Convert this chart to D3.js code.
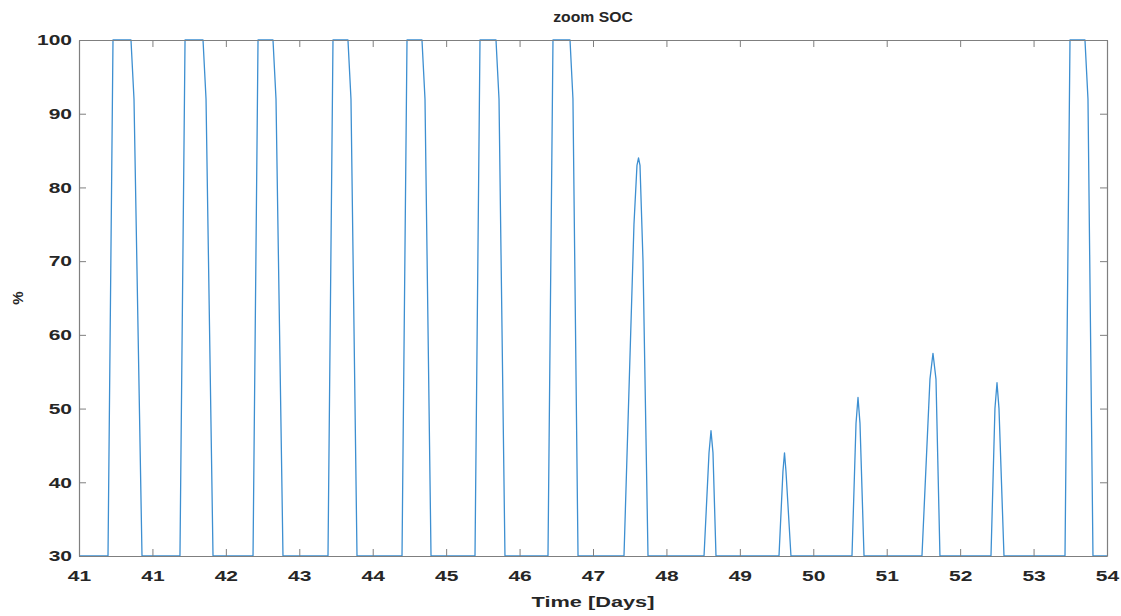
<!DOCTYPE html>
<html>
<head>
<meta charset="utf-8">
<script src="https://cdn.jsdelivr.net/npm/d3@7"></script>
<style>
  html, body { margin: 0; padding: 0; background: #fff; }
  svg text { font-family: "Liberation Sans", Arial, sans-serif; font-weight: bold; fill: #262626; }
</style>
</head>
<body>
<svg id="chart" width="1121" height="616"></svg>
<script>
// ---- data ----
const timeDays = [
  40.000,
  40.395, 40.463, 40.708, 40.749, 40.858,
  41.375, 41.444, 41.689, 41.730, 41.825,
  42.370, 42.438, 42.642, 42.683, 42.778,
  43.391, 43.459, 43.663, 43.704, 43.786,
  44.399, 44.467, 44.671, 44.712, 44.794,
  45.393, 45.461, 45.679, 45.720, 45.801,
  46.387, 46.455, 46.687, 46.727, 46.796,
  47.422, 47.558, 47.599, 47.620, 47.640, 47.681, 47.749,
  48.512, 48.580, 48.607, 48.634, 48.675,
  49.533, 49.587, 49.608, 49.628, 49.696,
  50.527, 50.582, 50.609, 50.636, 50.691,
  51.480, 51.589, 51.630, 51.671, 51.725,
  52.420, 52.474, 52.502, 52.529, 52.597,
  53.428, 53.496, 53.700, 53.741, 53.809,
  54.000
];
const socPercent = [
  30,
  30, 100, 100, 92, 30,
  30, 100, 100, 92, 30,
  30, 100, 100, 92, 30,
  30, 100, 100, 92, 30,
  30, 100, 100, 92, 30,
  30, 100, 100, 92, 30,
  30, 100, 100, 92, 30,
  30, 75, 83, 84, 83, 70, 30,
  30, 44, 47, 44, 30,
  30, 41.5, 44, 41.5, 30,
  30, 48, 51.5, 48, 30,
  30, 54, 57.5, 54, 30,
  30, 50, 53.5, 50, 30,
  30, 100, 100, 92, 30,
  30
];
const xTickValues = [40, 41, 42, 43, 44, 45, 46, 47, 48, 49, 50, 51, 52, 53, 54];
const xTickLabels = ["41", "41", "42", "43", "44", "45", "46", "47", "48", "49", "50", "51", "52", "53", "54"];
const yTickValues = [30, 40, 50, 60, 70, 80, 90, 100];
const titleText = "zoom SOC";
const xLabelText = "Time [Days]";
const yLabelText = "%";

// ---- layout ----
const svg = d3.select("#chart");
const mLeft = 79, mRight = 1107, mTop = 40, mBottom = 556;
const x = d3.scaleLinear().domain([40, 54]).range([mLeft, mRight]);
const y = d3.scaleLinear().domain([30, 100]).range([mBottom, mTop]);
const axisColor = "#7f7f7f";
const tickLen = 7;
const fontSize = 15;
const stretch = 1.4;   // text in the reference is horizontally stretched

const data = timeDays.map((t, i) => [t, socPercent[i]]);

// line
svg.append("path")
  .datum(data)
  .attr("fill", "none")
  .attr("stroke", "#3d8fd1")
  .attr("stroke-width", 1.3)
  .attr("stroke-linejoin", "round")
  .attr("d", d3.line().x(d => x(d[0])).y(d => y(d[1])));

// axes (ticks pointing inward, box on)
function styleAxis(g) {
  g.selectAll(".domain").attr("stroke", axisColor).attr("stroke-width", 1.2);
  g.selectAll(".tick line").attr("stroke", axisColor).attr("stroke-width", 1);
  g.selectAll("text").attr("font-size", fontSize).attr("fill", "#262626")
    .attr("font-family", "'Liberation Sans', Arial, sans-serif").attr("font-weight", "bold");
}

const fmtX = (d, i) => xTickLabels[i];

const xAxisB = svg.append("g").attr("transform", `translate(0,${mBottom})`)
  .call(d3.axisBottom(x).tickValues(xTickValues).tickFormat(fmtX).tickSizeInner(-tickLen).tickSizeOuter(0).tickPadding(14));
styleAxis(xAxisB);
xAxisB.selectAll(".tick text").attr("transform", `scale(${stretch},1)`);

const xAxisT = svg.append("g").attr("transform", `translate(0,${mTop})`)
  .call(d3.axisTop(x).tickValues(xTickValues).tickFormat("").tickSizeInner(-tickLen).tickSizeOuter(0));
styleAxis(xAxisT);

const yAxisL = svg.append("g").attr("transform", `translate(${mLeft},0)`)
  .call(d3.axisLeft(y).tickValues(yTickValues).tickFormat(d3.format("d")).tickSizeInner(-tickLen).tickSizeOuter(0).tickPadding(7));
styleAxis(yAxisL);
yAxisL.selectAll(".tick text").attr("x", -7 / stretch).attr("transform", `scale(${stretch},1)`);

const yAxisR = svg.append("g").attr("transform", `translate(${mRight},0)`)
  .call(d3.axisRight(y).tickValues(yTickValues).tickFormat("").tickSizeInner(-tickLen).tickSizeOuter(0));
styleAxis(yAxisR);

// title and labels
svg.append("text").attr("transform", `translate(${(mLeft + mRight) / 2},22) scale(1.05,1)`)
  .attr("text-anchor", "middle").attr("font-size", fontSize).text(titleText);
svg.append("text").attr("transform", `translate(${(mLeft + mRight) / 2},607) scale(1.45,1)`)
  .attr("text-anchor", "middle").attr("font-size", fontSize).text(xLabelText);
svg.append("text").attr("transform", `translate(23,${(mTop + mBottom) / 2}) rotate(-90)`)
  .attr("text-anchor", "middle").attr("font-size", fontSize).text(yLabelText);
</script>
</body>
</html>
